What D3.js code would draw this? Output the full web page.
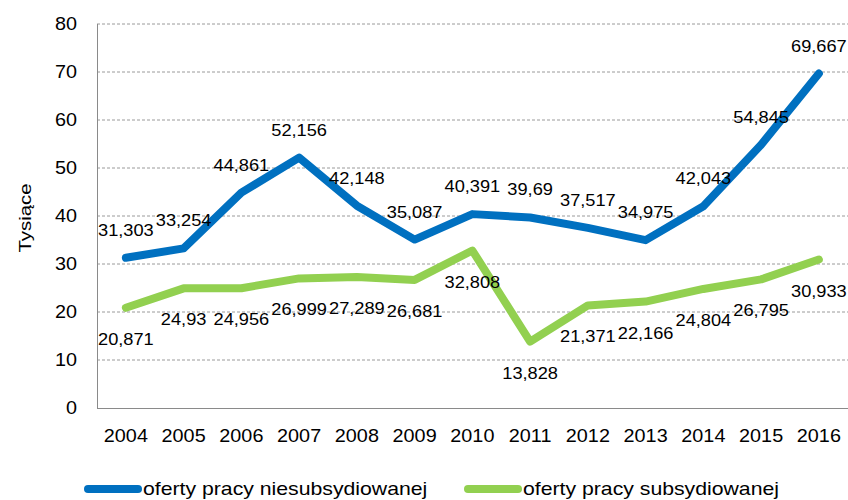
<!DOCTYPE html>
<html>
<head>
<meta charset="utf-8">
<script src="https://cdn.jsdelivr.net/npm/d3@7/dist/d3.min.js"></script>
<style>
  html, body { margin: 0; padding: 0; background: #fff; }
  svg { display: block; font-family: "Liberation Sans", Arial, sans-serif; }
</style>
</head>
<body>
<svg id="chart" width="848" height="500"></svg>
<script>
// Oferty pracy (tys.) w latach 2004–2016
const years = ["2004","2005","2006","2007","2008","2009","2010","2011","2012","2013","2014","2015","2016"];
const niesubsydiowane = [31.303, 33.254, 44.861, 52.156, 42.148, 35.087, 40.391, 39.69, 37.517, 34.975, 42.043, 54.845, 69.667];
const subsydiowane = [20.871, 24.93, 24.956, 26.999, 27.289, 26.681, 32.808, 13.828, 21.371, 22.166, 24.804, 26.795, 30.933];
const yTicks = [0, 10, 20, 30, 40, 50, 60, 70, 80];
const seriesNames = ["oferty pracy niesubsydiowanej", "oferty pracy subsydiowanej"];
const yTitle = "Tysiące";

const colors = ["#0070C0", "#92D050"];
const svg = d3.select("#chart");

const plot = { left: 97, right: 847.75, top: 24, bottom: 408 };
const x = d3.scaleBand().domain(years).range([plot.left, plot.right]).padding(0);
const y = d3.scaleLinear().domain([0, 80]).range([plot.bottom, plot.top]);
const cx = d => x(d) + x.bandwidth() / 2;
const fmt = v => String(v).replace(".", ",");
const sx = 1.1; // horizontal text widening

// gridlines
svg.append("g").selectAll("line")
  .data(yTicks.filter(t => t > 0))
  .join("line")
  .attr("x1", plot.left).attr("x2", 848)
  .attr("y1", d => y(d)).attr("y2", d => y(d))
  .attr("stroke", "#9a9a9a").attr("stroke-width", 1)
  .attr("stroke-dasharray", "3,2");

// axes lines
svg.append("line")
  .attr("x1", plot.left + 0.5).attr("x2", plot.left + 0.5)
  .attr("y1", plot.top).attr("y2", plot.bottom)
  .attr("stroke", "#8a8a8a").attr("stroke-width", 1);
svg.append("line")
  .attr("x1", plot.left).attr("x2", 848)
  .attr("y1", plot.bottom + 0.5).attr("y2", plot.bottom + 0.5)
  .attr("stroke", "#8a8a8a").attr("stroke-width", 1);

// y tick labels
svg.append("g").selectAll("text")
  .data(yTicks)
  .join("text")
  .attr("transform", d => `translate(77,${y(d)}) scale(${sx},1)`)
  .attr("text-anchor", "end")
  .attr("dy", "0.36em")
  .attr("font-size", 18)
  .attr("fill", "#000")
  .text(d => d);

// x tick labels
svg.append("g").selectAll("text")
  .data(years)
  .join("text")
  .attr("transform", d => `translate(${cx(d)},442) scale(${sx},1)`)
  .attr("text-anchor", "middle")
  .attr("font-size", 18)
  .attr("fill", "#000")
  .text(d => d);

// y axis title
svg.append("text")
  .attr("transform", `translate(31,218) rotate(-90) scale(1.2,1)`)
  .attr("text-anchor", "middle")
  .attr("font-size", 17)
  .attr("fill", "#000")
  .text(yTitle);

// lines
const line = d3.line().x((d, i) => cx(years[i])).y(d => y(d));
[niesubsydiowane, subsydiowane].forEach((vals, k) => {
  svg.append("path")
    .datum(vals)
    .attr("d", line)
    .attr("fill", "none")
    .attr("stroke", colors[k])
    .attr("stroke-width", 8)
    .attr("stroke-linejoin", "round")
    .attr("stroke-linecap", "round");
});

// data labels: upper series above, lower series below
const lx = 1.14;
svg.append("g").selectAll("text")
  .data(niesubsydiowane)
  .join("text")
  .attr("transform", (d, i) => `translate(${cx(years[i])},${y(d) - 22}) scale(${lx},1)`)
  .attr("text-anchor", "middle")
  .attr("font-size", 16)
  .attr("fill", "#000")
  .text(fmt);

svg.append("g").selectAll("text")
  .data(subsydiowane)
  .join("text")
  .attr("transform", (d, i) => `translate(${cx(years[i])},${y(d) + 37}) scale(${lx},1)`)
  .attr("text-anchor", "middle")
  .attr("font-size", 16)
  .attr("fill", "#000")
  .text(fmt);

// legend
const legendX = [84, 464];
seriesNames.forEach((name, k) => {
  const g = svg.append("g");
  g.append("line")
    .attr("x1", legendX[k] + 4).attr("x2", legendX[k] + 54)
    .attr("y1", 489).attr("y2", 489)
    .attr("stroke", colors[k]).attr("stroke-width", 8)
    .attr("stroke-linecap", "round");
  g.append("text")
    .attr("transform", `translate(${legendX[k] + 59},495) scale(1.18,1)`)
    .attr("font-size", 18)
    .attr("fill", "#000")
    .text(name);
});
</script>
</body>
</html>
